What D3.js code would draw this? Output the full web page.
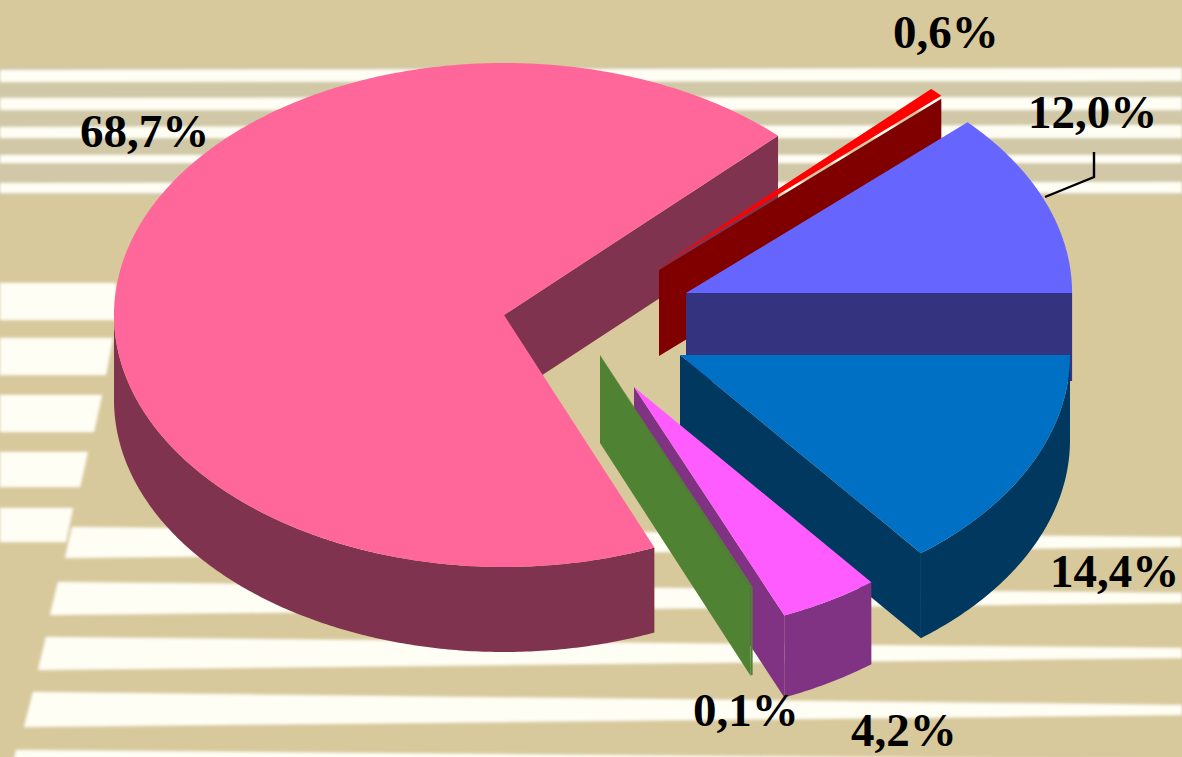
<!DOCTYPE html>
<html>
<head>
<meta charset="utf-8">
<script src="https://cdn.jsdelivr.net/npm/d3@7/dist/d3.min.js"></script>
<style>
html,body{margin:0;padding:0;background:#D8C99C;overflow:hidden}
svg{display:block}
text{font-family:"Liberation Serif","Times New Roman",serif;font-weight:700;fill:#000}
</style>
</head>
<body>
<svg id="chart" width="1182" height="757"></svg>
<script>
// ---- data
const categories = ["a", "b", "c", "d", "e", "f"];
const seriesValues = [0.6, 12.0, 14.4, 4.2, 0.1, 68.7];
// ---- styles and layout
const topColors  = ["#FF0000", "#6666FF", "#0070C4", "#FF5CFF", "#4F8232", "#FF6699"];
const wallColors = ["#800000", "#333380", "#00385F", "#803382", "#4F8232", "#80334F"];
const centerX = [659, 686, 680, 634, 600, 504];
const centerY = [270, 293, 355, 387, 355, 315];
const topLift = [3, 0, 0, 0, 0, 0];
const wallDepth = [86, 88, 85, 82, 88, 85];
const radiusScale = [0.993, 0.99, 1, 0.985, 1, 1];
const paintOrder = [5, 0, 1, 2, 3, 4];
const labelX = [893, 1028, 1050, 851, 693, 80];
const labelY = [48, 128, 587, 746, 726, 147];
const leader = [[1045, 197], [1094, 177], [1094, 152]];
// [xLeftTop, xLeftBottom, yTopLeft, yBottomLeft, xRightTop, xRightBottom, yTopRight, yBottomRight]
const upperBands = [[0,0,70,82,1182,1182,68,81],[0,0,98,110,1182,1182,97,110],[0,0,127,138,1182,1182,125,138],[0,0,155,163,1182,1182,155,163],[0,0,183,193,1182,1182,182,193]];
const sideBands = [[0,0,283,320,116,116,283,320],[0,0,338,375,113,106,338,375],[0,0,395,432,102,94,395,432],[0,0,452,487,88,80,452,487],[0,0,508,542,73,66,508,542]];
const lowerBands = [[72,65,527,558,1182,1182,537,547],[58,50,582,615,1182,1182,593,603],[46,38,637,670,1182,1182,648,658],[33,24,692,727,1182,1182,705,715],[16,8,750,790,1182,1182,760,770]];

const svg = d3.select("#chart");
const width = 1182, height = 757;
const rx = 390, ry = 252;

// ---- background
const defs = svg.append("defs");
defs.append("filter").attr("id", "soft").attr("filterUnits", "userSpaceOnUse")
  .attr("x", -20).attr("y", -20).attr("width", width + 40).attr("height", height + 40)
  .append("feGaussianBlur").attr("stdDeviation", 1.5);
const bg = svg.append("g").attr("filter", "url(#soft)");
bg.append("rect").attr("x", -10).attr("y", -10).attr("width", width + 20).attr("height", height + 20).attr("fill", "#D8C99C");
bg.append("rect").attr("x", -10).attr("y", 66).attr("width", width + 20).attr("height", 130).attr("fill", "#D0C8A6");
const bandPath = b => d3.line()([[b[0], b[2]], [b[4], b[6]], [b[5], b[7]], [b[1], b[3]]]) + "Z";
bg.selectAll("path.band").data([...upperBands, ...sideBands, ...lowerBands]).join("path")
  .attr("class", "band").attr("d", bandPath).attr("fill", "#FFFEF4");

// ---- pie
const pie = d3.pie().sort(null).startAngle(44.64 * Math.PI / 180).endAngle((44.64 + 360) * Math.PI / 180);
const arcs = pie(seriesValues);
const sx = d3.scaleLinear().domain([-1, 1]).range([-rx, rx]);
const sy = d3.scaleLinear().domain([-1, 1]).range([-ry, ry]);
const pt = (a, cx, cy, k) => [cx + k * sx(Math.sin(a)), cy - k * sy(Math.cos(a))];
const rim = (a0, a1, cx, cy, k) => {
  const n = Math.max(2, Math.ceil((a1 - a0) / 0.01));
  return d3.range(n + 1).map(i => pt(a0 + (a1 - a0) * i / n, cx, cy, k));
};
const line = d3.line();

const slices = svg.selectAll("g.slice").data(paintOrder).join("g").attr("class", "slice");

slices.each(function (i) {
  const d = arcs[i];
  const g = d3.select(this);
  const cx = centerX[i], cy = centerY[i], h = wallDepth[i], k = radiusScale[i];
  // radial wall on the clockwise end of the slice
  const e = pt(d.endAngle, cx, cy, k);
  g.append("path")
    .attr("d", line([[cx, cy], e, [e[0], e[1] + h], [cx, cy + h]]) + "Z")
    .attr("fill", wallColors[i]);
  // outer wall, front half of the rim only
  const lo = Math.PI / 2, hi = 3 * Math.PI / 2;
  const a0 = Math.max(d.startAngle, lo), a1 = Math.min(d.endAngle, hi);
  if (a1 > a0) {
    const upper = rim(a0, a1, cx, cy, k);
    const lower = upper.map(p => [p[0], p[1] + h]).reverse();
    g.append("path").attr("d", line(upper.concat(lower)) + "Z").attr("fill", wallColors[i]);
  }
  // top surface
  const t = cy - topLift[i];
  g.append("path")
    .attr("d", line([[cx, t], ...rim(d.startAngle, d.endAngle, cx, t, k)]) + "Z")
    .attr("fill", topColors[i]);
});

// ---- labels
const fmt = d3.format(".1f");
svg.selectAll("text.label").data(arcs).join("text")
  .attr("class", "label")
  .attr("x", (d, i) => labelX[i])
  .attr("y", (d, i) => labelY[i])
  .attr("font-size", 47)
  .text(d => fmt(d.value).replace(".", ",") + "%");

svg.append("path").attr("d", line(leader)).attr("fill", "none").attr("stroke", "#000").attr("stroke-width", 2.4);
</script>
</body>
</html>
